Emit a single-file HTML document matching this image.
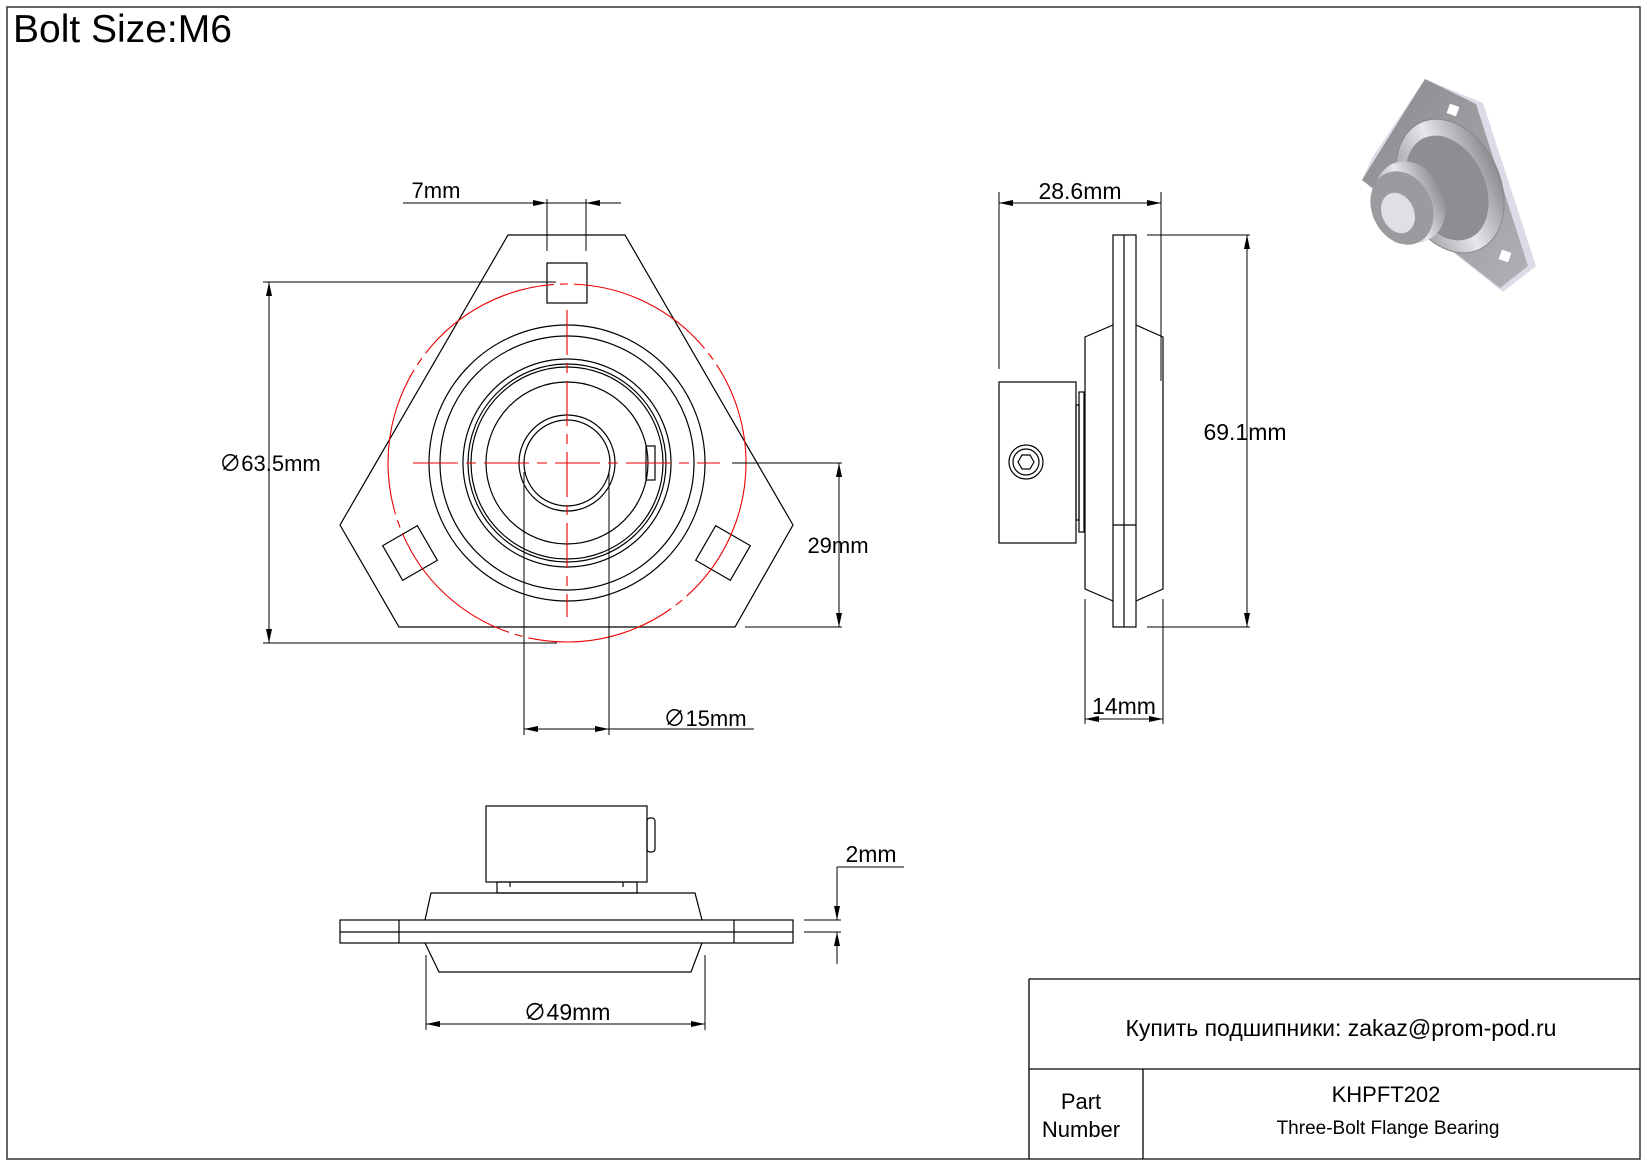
<!DOCTYPE html>
<html><head><meta charset="utf-8"><style>
html,body{margin:0;padding:0;background:#fff}
svg{display:block}
text{font-family:"Liberation Sans","Noto Sans CJK SC",sans-serif;fill:#000}
</style></head><body>
<svg width="1647" height="1165" viewBox="0 0 1647 1165" xmlns="http://www.w3.org/2000/svg">
<defs>
<marker id="a" viewBox="0 0 14 8" refX="14" refY="4" markerWidth="15" markerHeight="8" markerUnits="userSpaceOnUse" orient="auto-start-reverse"><path d="M0,1 L14,4 L0,7z" fill="#000"/></marker>
<linearGradient id="g1" x1="0" y1="0" x2="1" y2="1"><stop offset="0" stop-color="#8a8a8e"/><stop offset="1" stop-color="#b0b0b6"/></linearGradient>
<linearGradient id="g2" x1="0" y1="0" x2="1" y2="0"><stop offset="0" stop-color="#9a9a9e"/><stop offset=".5" stop-color="#e8e8ec"/><stop offset="1" stop-color="#8c8c90"/></linearGradient>
</defs>
<rect x="7" y="7" width="1633" height="1152" fill="none" stroke="#333" stroke-width="1.5"/>
<text x="13" y="42" font-size="39">Bolt Size:M6</text>

<g fill="none" stroke="#000" stroke-width="1.2">
<polygon points="508,235 625,235 793,525 735,627 399,627 340,525"/>
<rect x="547" y="263" width="40" height="40"/>
<rect x="-20" y="-20" width="40" height="40" transform="translate(410,553) rotate(-30)"/>
<rect x="-20" y="-20" width="40" height="40" transform="translate(723,553) rotate(30)"/>
<circle cx="567" cy="463" r="138"/>
<circle cx="567" cy="463" r="127"/>
<circle cx="567" cy="463" r="104"/>
<circle cx="567" cy="463" r="99"/>
<circle cx="567" cy="463" r="96"/>
<circle cx="567" cy="463" r="81"/>
<circle cx="567" cy="463" r="48"/>
<circle cx="567" cy="463" r="43"/>
<rect x="646" y="446" width="9" height="34"/>
</g>
<g fill="none" stroke="#e00" stroke-width="1.1">
<circle cx="567" cy="463" r="179" stroke-dasharray="150,6,8,6"/>
<line x1="413" y1="463" x2="720" y2="463" stroke-dasharray="45,8,10,8"/>
<line x1="567" y1="310" x2="567" y2="617" stroke-dasharray="45,8,10,8"/>
</g>
<g fill="none" stroke="#000" stroke-width="1">
<line x1="403" y1="203" x2="621" y2="203"/>
<line x1="522" y1="203" x2="547" y2="203" marker-end="url(#a)"/>
<line x1="611" y1="203" x2="586" y2="203" marker-end="url(#a)"/>
<line x1="547" y1="199" x2="547" y2="251"/><line x1="586" y1="199" x2="586" y2="251"/>
<line x1="263" y1="282" x2="556" y2="282"/><line x1="263" y1="643" x2="557" y2="643"/>
<line x1="269" y1="282" x2="269" y2="643" marker-start="url(#a)" marker-end="url(#a)"/>
<line x1="732" y1="463" x2="842" y2="463"/><line x1="745" y1="627" x2="842" y2="627"/>
<line x1="839" y1="463" x2="839" y2="627" marker-start="url(#a)" marker-end="url(#a)"/>
<line x1="524" y1="472" x2="524" y2="735"/><line x1="609" y1="472" x2="609" y2="735"/>
<line x1="524" y1="729" x2="609" y2="729" marker-start="url(#a)" marker-end="url(#a)"/>
<line x1="609" y1="729" x2="754" y2="729"/>
</g>
<g font-size="22" text-anchor="middle">
<text x="436" y="198">7mm</text>
<text x="270" y="471">∅63.5mm</text>
<text x="838" y="553">29mm</text>
<text x="705" y="726">∅15mm</text>
</g>

<!-- side view -->
<g fill="none" stroke="#000" stroke-width="1.2">
<rect x="1113" y="235" width="23" height="392"/>
<line x1="1124" y1="235" x2="1124" y2="627"/>
<line x1="1113" y1="525" x2="1136" y2="525"/>
<polyline points="1113,325 1085,337 1085,589 1113,601"/>
<polyline points="1136,325 1163,337 1163,589 1136,601"/>
<rect x="999" y="382" width="77" height="161"/>
<rect x="1076" y="405" width="3" height="115"/>
<rect x="1079" y="392" width="5" height="140"/>
<circle cx="1026" cy="462" r="17"/><circle cx="1026" cy="462" r="13"/>
<polygon points="1034,462 1030,469 1022,469 1018,462 1022,455 1030,455"/>
</g>
<g fill="none" stroke="#000" stroke-width="1">
<line x1="999" y1="192" x2="999" y2="369"/><line x1="1161" y1="192" x2="1161" y2="381"/>
<line x1="999" y1="203" x2="1161" y2="203" marker-start="url(#a)" marker-end="url(#a)"/>
<line x1="1147" y1="235" x2="1250" y2="235"/><line x1="1147" y1="627" x2="1250" y2="627"/>
<line x1="1247" y1="235" x2="1247" y2="627" marker-start="url(#a)" marker-end="url(#a)"/>
<line x1="1085" y1="599" x2="1085" y2="724"/><line x1="1163" y1="599" x2="1163" y2="724"/>
<line x1="1085" y1="719" x2="1163" y2="719" marker-start="url(#a)" marker-end="url(#a)"/>
</g>
<g font-size="23" text-anchor="middle">
<text x="1080" y="199">28.6mm</text>
<text x="1245" y="440">69.1mm</text>
<text x="1124" y="714">14mm</text>
</g>

<!-- bottom view -->
<g fill="none" stroke="#000" stroke-width="1.2">
<rect x="486" y="806" width="161" height="76"/>
<rect x="647" y="818" width="8" height="34" rx="3"/>
<rect x="497" y="882" width="140" height="11"/>
<line x1="510" y1="882" x2="510" y2="887"/><line x1="623" y1="882" x2="623" y2="887"/>
<polyline points="425,920 431,893 695,893 702,920"/>
<rect x="340" y="920" width="453" height="23"/>
<line x1="340" y1="932" x2="793" y2="932"/>
<line x1="399" y1="920" x2="399" y2="943"/><line x1="734" y1="920" x2="734" y2="943"/>
<polyline points="425,943 439,972 691,972 702,943"/>
</g>
<g fill="none" stroke="#000" stroke-width="1">
<line x1="426" y1="955" x2="426" y2="1030"/><line x1="705" y1="955" x2="705" y2="1030"/>
<line x1="426" y1="1024" x2="705" y2="1024" marker-start="url(#a)" marker-end="url(#a)"/>
<line x1="804" y1="920" x2="841" y2="920"/><line x1="804" y1="932" x2="841" y2="932"/>
<line x1="837" y1="867" x2="837" y2="920" marker-end="url(#a)"/>
<line x1="837" y1="964" x2="837" y2="932" marker-end="url(#a)"/>
<line x1="837" y1="867" x2="904" y2="867"/>
</g>
<g font-size="23" text-anchor="middle">
<text x="567" y="1020">∅49mm</text>
<text x="871" y="862">2mm</text>
</g>

<!-- 3D -->
<g>
<polygon points="1425,79 1483,103 1536,266 1503,292 1362,180 1372,158" fill="#dcdce8"/>
<polygon points="1425,79 1476,104 1528,266 1500,288 1362,180" fill="url(#g1)"/>
<rect x="1448" y="105" width="10" height="10" fill="#fff" transform="rotate(20 1453 110)"/>
<rect x="1500" y="251" width="10" height="10" fill="#fff" transform="rotate(20 1505 256)"/>
<ellipse cx="1450" cy="186" rx="50" ry="70" transform="rotate(-25 1450 186)" fill="url(#g2)" stroke="#888"/>
<ellipse cx="1447" cy="188" rx="38" ry="55" transform="rotate(-25 1447 188)" fill="#8e8e92"/>
<ellipse cx="1410" cy="202" rx="34" ry="42" transform="rotate(-25 1410 202)" fill="url(#g2)"/>
<ellipse cx="1402" cy="208" rx="30" ry="38" transform="rotate(-25 1402 208)" fill="#9b9b9f"/>
<ellipse cx="1398" cy="213" rx="16" ry="21" transform="rotate(-25 1398 213)" fill="#e0e0e4"/>
</g>

<!-- title block -->
<g fill="none" stroke="#000" stroke-width="1.3">
<line x1="1029" y1="979" x2="1640" y2="979"/>
<line x1="1029" y1="1069" x2="1640" y2="1069"/>
<line x1="1029" y1="979" x2="1029" y2="1159"/>
<line x1="1143" y1="1069" x2="1143" y2="1159"/>
</g>
<text x="1341" y="1036" font-size="23" text-anchor="middle">Купить подшипники: zakaz@prom-pod.ru</text>
<text x="1386" y="1102" font-size="22" text-anchor="middle">KHPFT202</text>
<text x="1388" y="1134" font-size="19" text-anchor="middle">Three-Bolt Flange Bearing</text>
<text x="1081" y="1109" font-size="22" text-anchor="middle">Part</text>
<text x="1081" y="1137" font-size="22" text-anchor="middle">Number</text>
</svg>
</body></html>
